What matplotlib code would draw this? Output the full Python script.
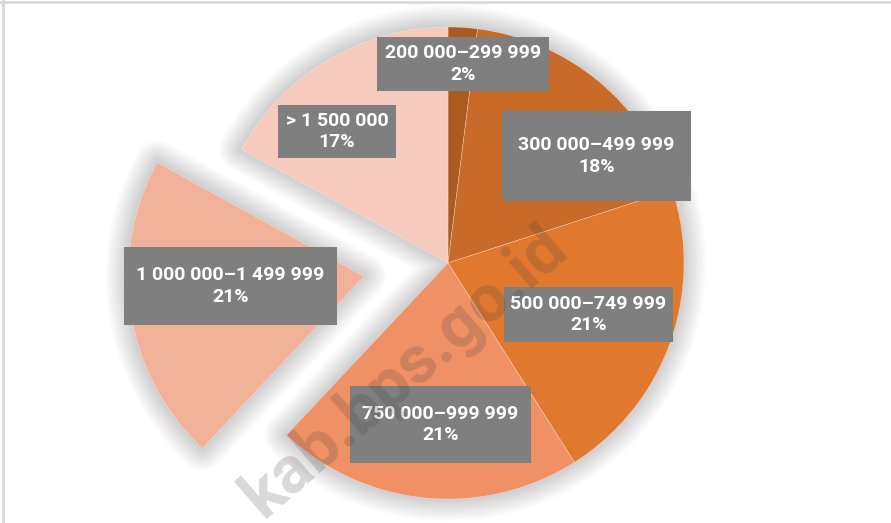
import matplotlib.pyplot as plt
from matplotlib.patches import Wedge, Rectangle
from matplotlib.lines import Line2D

# data
kategori = ['200 000–299 999', '300 000–499 999', '500 000–749 999',
            '750 000–999 999', '1 000 000–1 499 999', '> 1 500 000']
persen = [2, 18, 21, 21, 21, 17]

# style
warna = ['#AD5A1F', '#C86A28', '#E0782E', '#EF9065', '#F2B29A', '#F6CBBE']
W, H = 891, 523
cx, cy = 448, H - 263
r = 236
meledak = [0, 0, 0, 0, 85, 0]   # offset dalam piksel

# kotak label: (kiri, atas, lebar, tinggi) dalam piksel dari atas
kotak = [(377, 37, 172, 54), (502, 111, 189, 90), (504, 287, 169, 55),
         (350, 386, 181, 77), (124, 247, 213, 78), (278, 105, 118, 53)]

fig = plt.figure(figsize=(W / 100, H / 100), dpi=100)
ax = fig.add_axes([0, 0, 1, 1])

wedges, _ = ax.pie(persen, colors=warna, radius=r, center=(cx, cy),
                   startangle=90, counterclock=False, explode=meledak,
                   wedgeprops=dict(edgecolor=(1, 1, 1, 0.45), linewidth=0.4, zorder=3))

# bayangan lembut: satu untuk potongan yang terlepas, satu untuk sisanya
lepas = wedges[4]
bentuk = [(lepas.center, lepas.theta1, lepas.theta2),
          ((cx, cy), lepas.theta2, lepas.theta1 + 360)]
for pusat, t1, t2 in bentuk:
    for lw in range(2, 34, 2):
        ax.add_patch(Wedge(pusat, r, t1, t2, facecolor='none',
                           edgecolor='black', linewidth=lw, alpha=0.011,
                           joinstyle='round', zorder=1))

for (x0, y0, bw, bh), nama, p in zip(kotak, kategori, persen):
    ax.add_patch(Rectangle((x0, H - y0 - bh), bw, bh, facecolor='#7F7F7F',
                           edgecolor='none', zorder=5))
    ax.text(x0 + bw / 2, H - y0 - bh / 2, f'{nama}\n{p}%', ha='center', va='center',
            color='white', fontsize=14, fontweight='bold', family='Roboto',
            linespacing=1.25, zorder=6)

# watermark
ax.text(405, H - 372, 'kab.bps.go.id', rotation=41, ha='center', va='center',
        fontsize=48, fontweight='bold', family='Roboto', color='#404040',
        alpha=0.2, zorder=8)

ax.set_xlim(0, W)
ax.set_ylim(0, H)
ax.set_aspect('equal')
ax.axis('off')

fig.add_artist(Line2D([0, 1], [1 - 1.5 / H, 1 - 1.5 / H], color='#D9D9D9', lw=2))
fig.add_artist(Line2D([2.5 / W, 2.5 / W], [0, 1], color='#D9D9D9', lw=2))

fig.savefig('out.png', dpi=100)
